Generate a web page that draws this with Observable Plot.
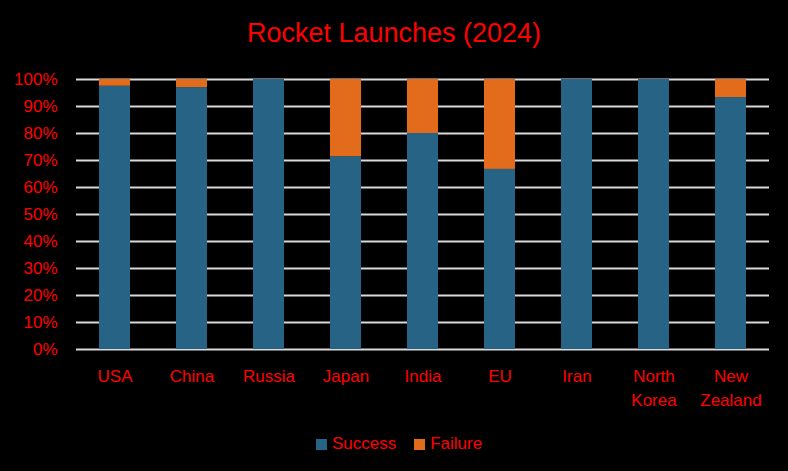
<!DOCTYPE html>
<html>
<head>
<meta charset="utf-8">
<script src="https://cdn.jsdelivr.net/npm/d3@7"></script>
<script src="https://cdn.jsdelivr.net/npm/@observablehq/plot@0.6"></script>
<style>
  html, body { margin: 0; padding: 0; background: #000; }
  #wrap { width: 788px; height: 471px; background: #000; font-family: "Liberation Sans", Arial, sans-serif; position: relative; overflow: hidden; }
  #title { height: 64px; line-height: 66px; text-align: center; color: #ff0000; font-size: 27px; }
  #legend { display: flex; justify-content: center; gap: 18px; color: #ff0000; font-size: 17px; margin-top: 15px; padding-left: 10px; }
  .item { display: flex; align-items: center; gap: 5px; }
  .sw { width: 11px; height: 11px; display: inline-block; }
</style>
</head>
<body>
<div id="wrap">
  <div id="title">Rocket Launches (2024)</div>
  <div id="chart"></div>
  <div id="legend"></div>
</div>
<script>
const countries = ["USA", "China", "Russia", "Japan", "India", "EU", "Iran", "North Korea", "New Zealand"];
const successShare = [0.975, 0.97, 1.0, 0.714, 0.80, 0.667, 1.0, 1.0, 0.933];
const failureShare = successShare.map(s => +(1 - s).toFixed(3));
const seriesNames = ["Success", "Failure"];
const seriesColors = ["#266384", "#e36c1c"];
const yTicks = [0, 0.1, 0.2, 0.3, 0.4, 0.5, 0.6, 0.7, 0.8, 0.9, 1.0];
const tickLabels = {"North Korea": "North\nKorea", "New Zealand": "New\nZealand"};

const rows = [];
countries.forEach((c, i) => {
  rows.push({country: c, series: "Success", value: successShare[i]});
  rows.push({country: c, series: "Failure", value: failureShare[i]});
});

const chart = Plot.plot({
  width: 788,
  height: 355,
  marginLeft: 76,
  marginRight: 19,
  marginTop: 15,
  marginBottom: 70,
  style: {background: "#000", color: "#ff0000", fontFamily: "'Liberation Sans', Arial, sans-serif", fontSize: "17px"},
  x: {domain: countries, paddingInner: 0.6, paddingOuter: 0.3, label: null},
  y: {domain: [0, 1], label: null},
  color: {domain: seriesNames, range: seriesColors},
  marks: [
    Plot.ruleY(yTicks, {stroke: "#d9d9d9", strokeWidth: 2, strokeOpacity: 1}),
    Plot.barY(rows, Plot.stackY({order: seriesNames}, {x: "country", y: "value", fill: "series"})),
    Plot.axisY(yTicks, {tickSize: 0, tickPadding: 19, tickFormat: d3.format(".0%"), fill: "#ff0000", fontSize: 17, label: null}),
    Plot.axisX({tickSize: 0, tickPadding: 16, tickFormat: d => tickLabels[d] || d, fill: "#ff0000", fontSize: 17, lineHeight: 1.4, label: null})
  ]
});
document.getElementById("chart").appendChild(chart);

const legend = document.getElementById("legend");
seriesNames.forEach((n, i) => {
  const it = document.createElement("div");
  it.className = "item";
  const sw = document.createElement("span");
  sw.className = "sw";
  sw.style.background = seriesColors[i];
  const t = document.createElement("span");
  t.textContent = n;
  it.appendChild(sw); it.appendChild(t);
  legend.appendChild(it);
});
</script>
</body>
</html>
